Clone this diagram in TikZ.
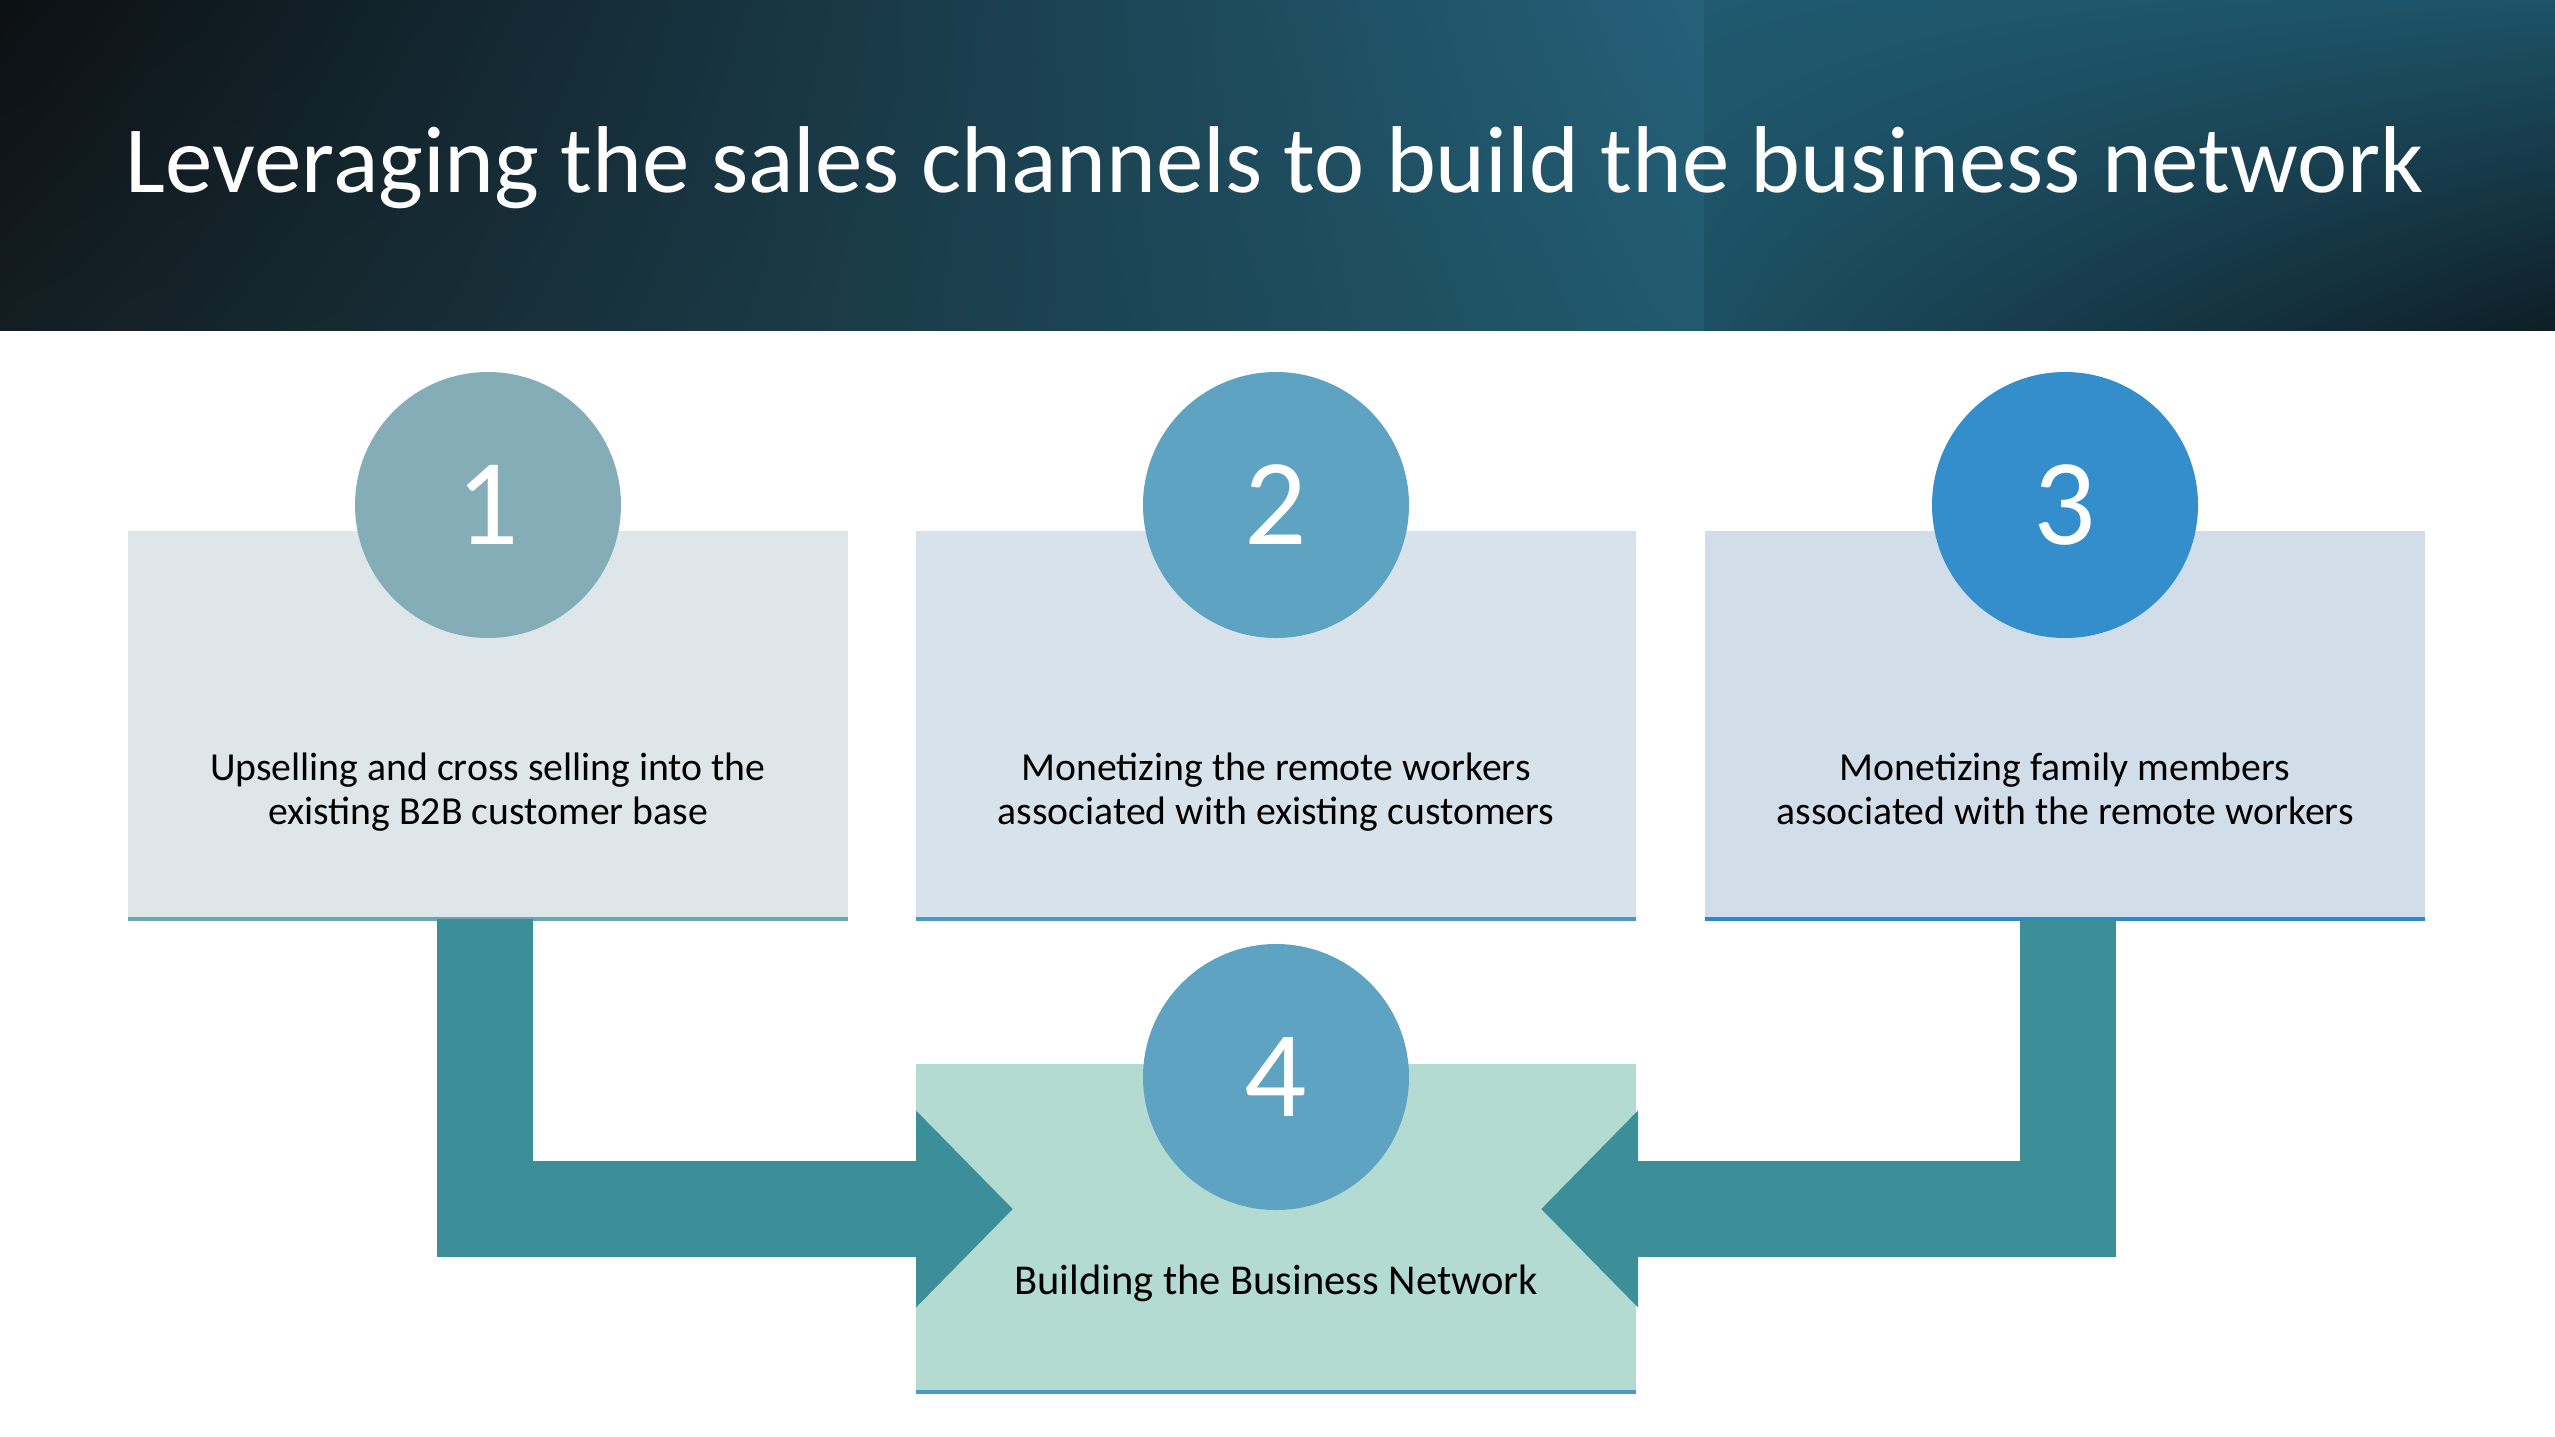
\documentclass[tikz,border=0pt]{standalone}
\usepackage{fontspec}
\setmainfont{Carlito}
\usetikzlibrary{calc,positioning,arrows.meta,shadings}

\definecolor{boxa}{HTML}{DEE6E9}
\definecolor{boxb}{HTML}{D8E2EA}
\definecolor{boxc}{HTML}{D1DEEA}
\definecolor{boxd}{HTML}{B3DBD2}
\definecolor{cira}{HTML}{85ADB7}
\definecolor{cirb}{HTML}{5EA3C1}
\definecolor{circ}{HTML}{338ECB}
\definecolor{bara}{HTML}{6AA6B8}
\definecolor{barb}{HTML}{4A9AC6}
\definecolor{barc}{HTML}{2B88CA}
\definecolor{flowc}{HTML}{3C8E98}
\definecolor{banul}{HTML}{0C1013}
\definecolor{banll}{HTML}{131D22}
\definecolor{banur}{HTML}{25617A}
\definecolor{banlr}{HTML}{215A6E}
\definecolor{panul}{HTML}{1F5A70}
\definecolor{panur}{HTML}{1D5267}
\definecolor{panll}{HTML}{1D4F62}
\definecolor{panlr}{HTML}{0E1E26}

\begin{document}
\begin{tikzpicture}[x=0.1mm,y=-0.1mm,
  box/.style={minimum width=72mm,minimum height=38.8mm,inner sep=0pt,outer sep=0pt},
  num/.style={circle,minimum size=26.6mm,inner sep=0pt,text=white,font=\fontsize{35}{35}\selectfont},
  txt/.style={align=center,font=\fontsize{11.3}{12.5}\selectfont,execute at begin node=\strut,execute at end node=\strut},
  flow/.style={draw=flowc,line width=9.6mm,-{Triangle[length=9.7mm,width=19.1mm]}}]

\useasboundingbox (0,0) rectangle (2555,1436);

\shade[upper left=banul,lower left=banll,upper right=banur,lower right=banlr] (0,0) rectangle (1704,330);
\shade[upper left=panul,upper right=panur,lower left=panll,lower right=panlr] (1704,0) rectangle (2555,330);
\node[text=white,font=\fontsize{27}{30}\selectfont,anchor=base] (title) at (1275,192) {Leveraging the sales channels to build the business network};

\def\steps{1/488/boxa/cira/bara/{Upselling and cross selling into the\\existing B2B customer base},2/1276/boxb/cirb/barb/{Monetizing the remote workers\\associated with existing customers},3/2065/boxc/circ/barc/{Monetizing family members\\associated with the remote workers}}
\foreach \i/\x/\bc/\cc/\lc/\element in \steps {
  \node[box,fill=\bc,anchor=north] (b\i) at (\x,531) {};
  \draw[line width=0.4mm,\lc] (b\i.south west) -- (b\i.south east);
  \node[num,fill=\cc] (c\i) at (\x,505) {\i};
  \node[txt] (t\i) at (\x,795) {\element};
}

\node[box,fill=boxd,minimum height=32.8mm,anchor=north] (b4) at (1276,1064) {};
\draw[line width=0.4mm,barb] (b4.south west) -- (b4.south east);

\coordinate (in1) at (1013,1209);
\coordinate (in3) at (1541,1209);
\draw[flow] ([xshift=-0.3mm]b1.south) |- (in1);
\draw[flow] ([xshift=0.3mm]b3.south) |- (in3);

\node[num,fill=cirb] (c4) at (1276,1077) {4};
\node[txt,font=\fontsize{12.1}{13}\selectfont] (t4) at (1276,1285) {Building the Business Network};

\end{tikzpicture}
\end{document}
